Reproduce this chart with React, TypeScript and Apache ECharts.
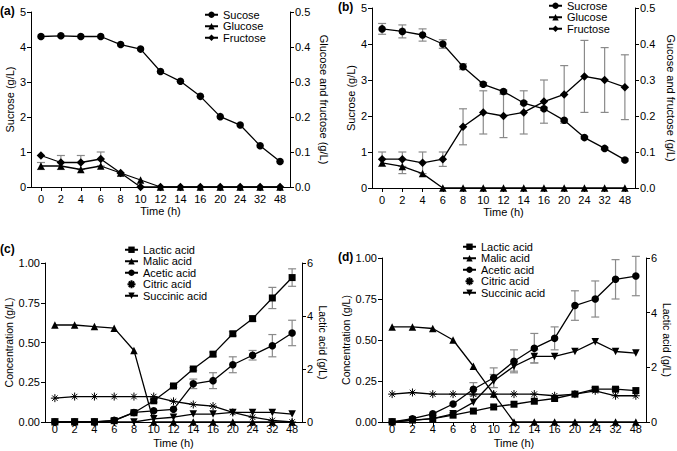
import React, { useEffect, useRef } from "react";
import * as echarts from "echarts";

const F = "Liberation Sans, Arial, sans-serif";

const cats = ["0", "2", "4", "6", "8", "10", "12", "14", "16", "20", "24", "32", "48"];

// Panel (a)
const sucroseA = [4.3, 4.32, 4.3, 4.3, 4.07, 3.94, 3.3, 3.02, 2.59, 2.01, 1.77, 1.18, 0.73];
const glucoseA = [0.06, 0.06, 0.05, 0.06, 0.04, 0.02, 0, 0, 0, 0, 0, 0, 0];
const glucoseAErr = [0.01, 0, 0, 0, 0, 0, 0, 0, 0, 0, 0, 0, 0];
const fructoseA = [0.09, 0.07, 0.07, 0.08, 0.04, 0, 0, 0, 0, 0, 0, 0, 0];
const fructoseAErr = [0, 0.02, 0.02, 0.02, 0, 0, 0, 0, 0, 0, 0, 0, 0];

// Panel (b)
const sucroseB = [4.42, 4.35, 4.25, 4.0, 3.37, 2.88, 2.68, 2.36, 2.2, 1.88, 1.4, 1.1, 0.78];
const sucroseBErr = [0.15, 0.18, 0.17, 0.12, 0.08, 0.05, 0.04, 0.04, 0.04, 0.03, 0.03, 0.03, 0.03];
const glucoseB = [0.07, 0.06, 0.04, 0, 0, 0, 0, 0, 0, 0, 0, 0, 0];
const glucoseBErr = [0, 0.02, 0, 0, 0, 0, 0, 0, 0, 0, 0, 0, 0];
const fructoseB = [0.08, 0.08, 0.07, 0.08, 0.17, 0.21, 0.2, 0.21, 0.24, 0.26, 0.31, 0.3, 0.28];
const fructoseBErr = [0.02, 0.02, 0.03, 0.02, 0.05, 0.06, 0.06, 0.06, 0.06, 0.08, 0.1, 0.09, 0.09];

// Panel (c)
const lacticC = [0, 0, 0, 0.05, 0.35, 0.8, 1.36, 2.0, 2.56, 3.33, 3.9, 4.68, 5.45];
const lacticCErr = [0, 0, 0, 0, 0, 0.05, 0.05, 0.05, 0.08, 0.08, 0.1, 0.4, 0.33];
const malicC = [0.61, 0.61, 0.6, 0.59, 0.45, 0, 0, 0, 0, 0, 0, 0, 0];
const aceticC = [0, 0, 0, 0.01, 0.06, 0.07, 0.08, 0.24, 0.26, 0.36, 0.42, 0.48, 0.56];
const aceticCErr = [0, 0, 0, 0, 0, 0, 0, 0.03, 0.05, 0.05, 0.03, 0.07, 0.08];
const citricC = [0.15, 0.16, 0.16, 0.16, 0.16, 0.16, 0.13, 0.11, 0.1, 0.06, 0.03, 0.01, 0];
const succinicC = [0, 0, 0, 0, 0, 0.02, 0.03, 0.05, 0.05, 0.06, 0.06, 0.06, 0.05];

// Panel (d)
const lacticD = [0, 0.07, 0.12, 0.25, 0.4, 0.55, 0.65, 0.76, 0.86, 1.02, 1.2, 1.2, 1.15];
const lacticDErr = [0, 0, 0, 0, 0, 0, 0, 0, 0, 0, 0.06, 0.06, 0];
const malicD = [0.58, 0.58, 0.57, 0.5, 0.34, 0.17, 0, 0, 0, 0, 0, 0, 0];
const aceticD = [0, 0.02, 0.05, 0.11, 0.2, 0.27, 0.37, 0.45, 0.51, 0.71, 0.75, 0.87, 0.89];
const aceticDErr = [0, 0, 0, 0, 0.04, 0.06, 0.07, 0.09, 0.07, 0.09, 0.11, 0.12, 0.12];
const citricD = [0.17, 0.18, 0.17, 0.17, 0.17, 0.17, 0.17, 0.17, 0.16, 0.17, 0.19, 0.16, 0.16];
const succinicD = [0, 0.01, 0.02, 0.05, 0.12, 0.25, 0.34, 0.4, 0.4, 0.43, 0.49, 0.43, 0.42];
const succinicDErr = [0, 0, 0, 0, 0, 0.04, 0.03, 0.04, 0, 0, 0, 0, 0];

const legendA = ["Sucose", "Glucose", "Fructose"];
const legendB = ["Sucrose", "Glucose", "Fructose"];
const legendCD = ["Lactic acid", "Malic acid", "Acetic acid", "Citric acid", "Succinic acid"];

const ASTER = "path://M5 0 L5 10 M0 5 L10 5 M1.6 1.6 L8.4 8.4 M1.6 8.4 L8.4 1.6";

function line(name: string, data: number[], g: number, right: boolean, symbol: string, size: number, rotate = 0, hollow = false) {
  return {
    type: "line",
    name,
    data,
    xAxisIndex: g,
    yAxisIndex: g * 2 + (right ? 1 : 0),
    symbol,
    symbolSize: size,
    symbolRotate: rotate,
    showAllSymbol: true,
    lineStyle: { color: "#000", width: 1.3 },
    itemStyle: hollow
      ? { color: "#fff", borderColor: "#000", borderWidth: 1 }
      : { color: "#000", borderColor: "#000", borderWidth: 0 },
    z: 3,
  };
}

function errBars(values: number[], errs: number[], g: number, right: boolean) {
  const data: number[][] = [];
  values.forEach((v, i) => {
    if (errs[i] > 0) data.push([i, v - errs[i], v + errs[i]]);
  });
  return {
    type: "custom",
    name: "err",
    xAxisIndex: g,
    yAxisIndex: g * 2 + (right ? 1 : 0),
    data,
    encode: { x: 0, y: [1, 2] },
    z: 2,
    renderItem: (params: any, api: any) => {
      const x = api.value(0);
      const lo = api.coord([x, api.value(1)]);
      const hi = api.coord([x, api.value(2)]);
      const w = 4;
      const st = { stroke: "#8a8a8a", lineWidth: 1.2 };
      return {
        type: "group",
        children: [
          { type: "line", shape: { x1: lo[0], y1: lo[1], x2: hi[0], y2: hi[1] }, style: st },
          { type: "line", shape: { x1: lo[0] - w, y1: lo[1], x2: lo[0] + w, y2: lo[1] }, style: st },
          { type: "line", shape: { x1: hi[0] - w, y1: hi[1], x2: hi[0] + w, y2: hi[1] }, style: st },
        ],
      };
    },
  };
}

const txt = { color: "#000", fontSize: 11, fontFamily: F };

function xAxis(g: number, labelMargin: number, nameGap: number) {
  return {
    type: "category",
    gridIndex: g,
    data: cats,
    boundaryGap: true,
    name: "Time (h)",
    nameLocation: "middle",
    nameGap,
    nameTextStyle: txt,
    axisLine: { show: true, lineStyle: { color: "#000", width: 1 } },
    axisTick: { show: true, alignWithLabel: true, interval: 0, length: 4, lineStyle: { color: "#000" } },
    axisLabel: { ...txt, interval: 0, margin: labelMargin },
    splitLine: { show: false },
  };
}

function yAxis(g: number, right: boolean, name: string, max: number, interval: number, digits: number, nameGap: number, nameSize = 11) {
  return {
    type: "value",
    gridIndex: g,
    position: right ? "right" : "left",
    min: 0,
    max,
    interval,
    name,
    nameLocation: "middle",
    nameRotate: right ? -90 : 90,
    nameGap,
    nameTextStyle: { ...txt, fontSize: nameSize },
    axisLine: { show: true, lineStyle: { color: "#000", width: 1 } },
    axisTick: { show: true, length: 4, lineStyle: { color: "#000" } },
    axisLabel: { ...txt, margin: 5, formatter: (v: number) => v.toFixed(digits) },
    splitLine: { show: false },
  };
}

function legend(names: string[], left: number, top: number) {
  return {
    orient: "vertical",
    left,
    top,
    padding: 0,
    itemGap: 0,
    itemWidth: 13,
    itemHeight: 8,
    selectedMode: false,
    data: names.map((n) => (n === "Citric acid" ? { name: n, icon: ASTER } : n)),
    textStyle: { ...txt, fontSize: 11, lineHeight: 11.5 },
  };
}

export default function App() {
  const ref = useRef<HTMLDivElement>(null);
  useEffect(() => {
    if (!ref.current) return;
    const chart = echarts.init(ref.current, undefined, { renderer: "svg" });
    chart.setOption({
      animation: false,
      backgroundColor: "#fff",
      grid: [
        { left: 31, right: 387, top: 12, bottom: 264 },
        { left: 372, right: 40, top: 8, bottom: 263 },
        { left: 45, right: 375, top: 263, bottom: 29 },
        { left: 382, right: 31, top: 258, bottom: 29 },
      ],
      xAxis: [xAxis(0, 6, 18), xAxis(1, 6, 18), xAxis(2, 1, 15), xAxis(3, 1, 15)],
      yAxis: [
        yAxis(0, false, "Sucrose (g/L)", 5, 1, 0, 14),
        yAxis(0, true, "Glucose and fructose (g/L)", 0.5, 0.1, 1, 28),
        yAxis(1, false, "Sucrose (g/L)", 5, 1, 0, 14),
        yAxis(1, true, "Gucose and fructose (g/L)", 0.5, 0.1, 1, 30),
        yAxis(2, false, "Concentration (g/L)", 1, 0.25, 2, 28, 10.5),
        yAxis(2, true, "Lactic acid (g/L)", 6, 2, 0, 15, 10.5),
        yAxis(3, false, "Concentration (g/L)", 1, 0.25, 2, 28, 10.5),
        yAxis(3, true, "Lactic acid (g/L)", 6, 2, 0, 12, 10.5),
      ],
      legend: [
        legend(legendA, 204, 9),
        legend(legendB, 548, 0),
        legend(legendCD, 124, 244),
        legend(legendCD, 462, 241),
      ],
      graphic: [
        { type: "text", left: 0, top: 5, style: { text: "(a)", fontSize: 12, fontWeight: "bold", fontFamily: F, fill: "#000" } },
        { type: "text", left: 338, top: 1, style: { text: "(b)", fontSize: 12, fontWeight: "bold", fontFamily: F, fill: "#000" } },
        { type: "text", left: 0, top: 243, style: { text: "(c)", fontSize: 12, fontWeight: "bold", fontFamily: F, fill: "#000" } },
        { type: "text", left: 338, top: 251, style: { text: "(d)", fontSize: 12, fontWeight: "bold", fontFamily: F, fill: "#000" } },
      ],
      series: [
        // (a)
        errBars(glucoseA, glucoseAErr, 0, true),
        errBars(fructoseA, fructoseAErr, 0, true),
        line("Sucose", sucroseA, 0, false, "circle", 7.5),
        line("Glucose", glucoseA, 0, true, "triangle", 7.5),
        line("Fructose", fructoseA, 0, true, "diamond", 8.5),
        // (b)
        errBars(sucroseB, sucroseBErr, 1, false),
        errBars(glucoseB, glucoseBErr, 1, true),
        errBars(fructoseB, fructoseBErr, 1, true),
        line("Sucrose", sucroseB, 1, false, "circle", 7.5),
        line("Glucose", glucoseB, 1, true, "triangle", 7.5),
        line("Fructose", fructoseB, 1, true, "diamond", 8.5),
        // (c)
        errBars(lacticC, lacticCErr, 2, true),
        errBars(aceticC, aceticCErr, 2, false),
        line("Lactic acid", lacticC, 2, true, "rect", 7),
        line("Malic acid", malicC, 2, false, "triangle", 7.5),
        line("Acetic acid", aceticC, 2, false, "circle", 7.5),
        line("Citric acid", citricC, 2, false, ASTER, 8, 0, true),
        line("Succinic acid", succinicC, 2, false, "triangle", 7.5, 180),
        // (d)
        errBars(lacticD, lacticDErr, 3, true),
        errBars(aceticD, aceticDErr, 3, false),
        errBars(succinicD, succinicDErr, 3, false),
        line("Lactic acid", lacticD, 3, true, "rect", 7),
        line("Malic acid", malicD, 3, false, "triangle", 7.5),
        line("Acetic acid", aceticD, 3, false, "circle", 7.5),
        line("Citric acid", citricD, 3, false, ASTER, 8, 0, true),
        line("Succinic acid", succinicD, 3, false, "triangle", 7.5, 180),
      ],
    });
    return () => chart.dispose();
  }, []);
  return <div ref={ref} style={{ position: "fixed", left: 0, top: 0, width: 677, height: 451, background: "#fff" }} />;
}
